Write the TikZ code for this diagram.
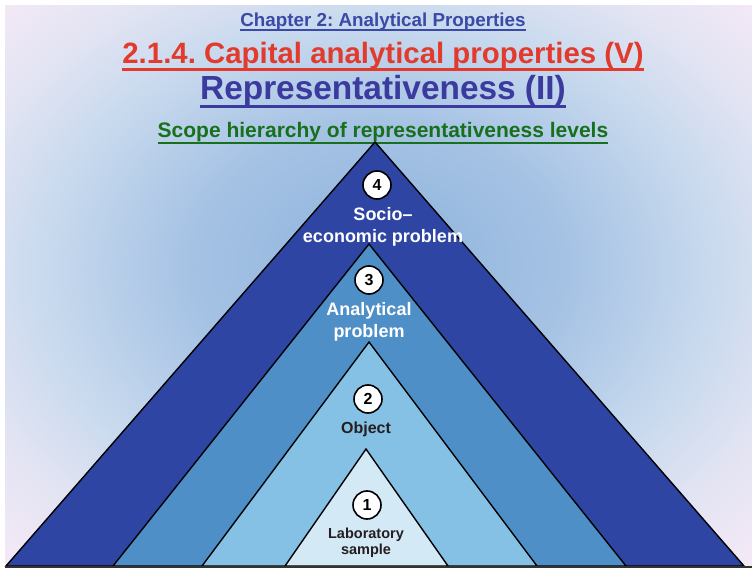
\documentclass[tikz,border=0pt]{standalone}
\usepackage{fontspec}
\setmainfont{Liberation Sans}
\frenchspacing
\usetikzlibrary{positioning,calc}
\definecolor{chapc}{HTML}{3A4AA6}
\definecolor{secc}{HTML}{E23B2E}
\definecolor{reprc}{HTML}{3B3A9F}
\definecolor{scopec}{HTML}{17701B}
\definecolor{lvfour}{HTML}{2E45A3}
\definecolor{lvthree}{HTML}{4F8FC7}
\definecolor{lvtwo}{HTML}{85C1E4}
\definecolor{lvone}{HTML}{D4E9F6}
\definecolor{inkc}{HTML}{231F20}
\definecolor{basec}{HTML}{333333}
\definecolor{bgmid}{HTML}{8EB3DC}
\definecolor{bgring}{HTML}{A5C2E4}
\definecolor{bgedge}{HTML}{C9DAEE}
\definecolor{bgpale}{HTML}{E3E4F3}
\definecolor{bgcorn}{HTML}{F6E9F7}
\pgfdeclareradialshading{bgshade}{\pgfpoint{0bp}{2.5bp}}{%
  color(0bp)=(bgmid); color(12.5bp)=(bgring); color(22.5bp)=(bgedge);
  color(29bp)=(bgpale); color(36bp)=(bgcorn); color(50bp)=(bgcorn)}
\tikzset{
  lvl/.style ={draw=black,line width=1.4pt,line join=miter},
  num/.style ={circle,draw=black,line width=1.6pt,fill=white,minimum size=28pt,
               inner sep=0pt,font=\fontsize{16}{16}\selectfont\bfseries},
  lbw/.style ={align=center,inner sep=0pt,text=white,
               font=\fontsize{18}{22}\selectfont\bfseries},
  lbk/.style ={align=center,inner sep=0pt,text=inkc,
               font=\fontsize{16}{18}\selectfont\bfseries},
  lbs/.style ={lbk,font=\fontsize{14.5}{16}\selectfont\bfseries},
  ttl/.style ={inner sep=0pt,anchor=base},
  ul/.style  ={line width=2pt},
}

\begin{document}
\begin{tikzpicture}[x=1pt,y=-1pt,node distance=7.5pt]

% ---------- background ---------------------------------------------------
\fill[white] (0,0) rectangle (752,569);
\useasboundingbox (0,0) rectangle (752,569);
\shade[shading=bgshade] (5,6) rectangle (752,567);

% ---------- titles -------------------------------------------------------
\node[ttl,text=chapc,font=\fontsize{18.8}{19}\selectfont\bfseries] (tch) at (383,27)
  {Chapter 2: Analytical Properties};
\node[ttl,text=secc,font=\fontsize{29.4}{30}\selectfont\bfseries] (tsec) at ($(tch.base)+(0,37)$)
  {2.1.4. Capital analytical properties (V)};
\node[ttl,text=reprc,font=\fontsize{33.4}{34}\selectfont\bfseries] (trep) at ($(tsec.base)+(0,36)$)
  {Representativeness (II)};
\node[ttl,text=scopec,font=\fontsize{21}{22}\selectfont\bfseries] (tsc) at ($(trep.base)+(0,37.5)$)
  {Scope hierarchy of representativeness levels};
\draw[ul,chapc] ([yshift=-3.5pt]tch.base west) -- ([yshift=-3.5pt]tch.base east);
\draw[ul,secc,line width=3pt] ([yshift=-6pt]tsec.base west) -- ([yshift=-6pt]tsec.base east);
\draw[ul,reprc,line width=3pt] ([yshift=-7pt]trep.base west) -- ([yshift=-7pt]trep.base east);
\draw[ul,scopec,line width=2.5pt] ([yshift=-5.5pt]tsc.base west) -- ([yshift=-5.5pt]tsc.base east);

% ---------- nested levels ------------------------------------------------
\draw[lvl,fill=lvfour]  (6,566)   -- (375,142) -- (744,566) -- cycle;
\draw[lvl,fill=lvthree] (113,566) -- (369,244) -- (626,566) -- cycle;
\draw[lvl,fill=lvtwo]   (202,566) -- (369,342) -- (537,566) -- cycle;
\draw[lvl,fill=lvone]   (285,566) -- (366,449) -- (448,566) -- cycle;
\draw[basec,line width=2pt] (5,567) -- (752,567);

% ---------- numbers and labels -------------------------------------------
\node[num] (n4) at (377,185) {4};
\node[lbw,below=of n4,xshift=6pt] (l4) {Socio--\\economic problem};
\node[num] (n3) at (369,280) {3};
\node[lbw,below=of n3] (l3) {Analytical\\problem};
\node[num] (n2) at (368,399) {2};
\node[lbk,below=8pt of n2,xshift=-2pt] (l2) {Object};
\node[num] (n1) at (367,505) {1};
\node[lbs,below=8pt of n1,xshift=-1pt] (l1) {Laboratory\\sample};

\end{tikzpicture}
\end{document}
